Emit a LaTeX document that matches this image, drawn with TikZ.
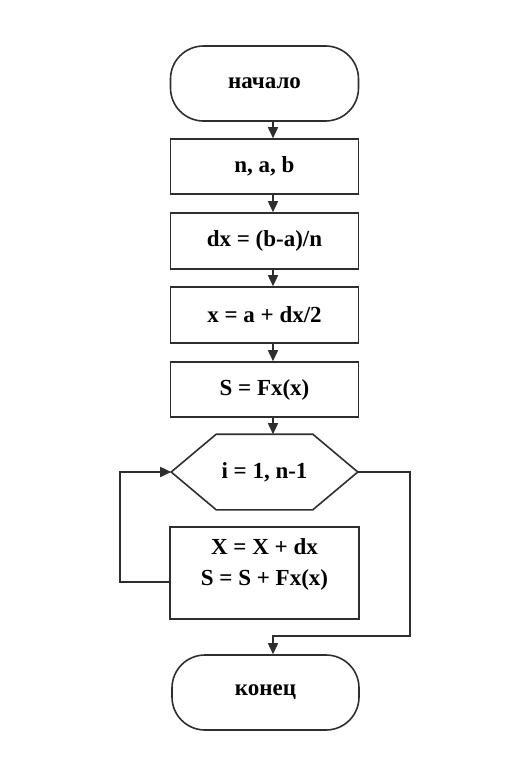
\documentclass[tikz,border=0pt]{standalone}
\usepackage{fontspec}
\setmainfont{Liberation Serif}
\usetikzlibrary{arrows.meta}
\definecolor{ln}{HTML}{2E2E2E}
\tikzset{
  base/.style={draw=ln, line width=1.6pt, font=\bfseries\fontsize{23}{31}\selectfont, inner sep=0pt, text=black},
  term/.style={base, rounded corners=33pt, minimum width=188pt, minimum height=75pt},
  proc/.style={base, minimum width=188pt, minimum height=55pt},
  arr/.style={draw=ln, line width=1.6pt, -{Triangle[length=11pt,width=10pt]}},
}
\begin{document}
\begin{tikzpicture}[x=1pt,y=-1pt]
\useasboundingbox (0,0) rectangle (531,779);
\coordinate (col) at (273,0);
\node[term] (start) at (264.5,83.5) {начало};
\node[proc] (b1) at (264.5,166.5) {n, a, b};
\node[proc, minimum height=56pt] (b2) at (264.5,241) {dx = (b-a)/n};
\node[proc, minimum height=56pt] (b3) at (264.5,315) {x = a + dx/2};
\node[proc] (b4) at (264.5,389.5) {S = Fx(x)};
\node[base, draw=none, minimum width=185pt, minimum height=74pt] (hex) at (264.5,472) {i = 1, n-1};
\draw[draw=ln, line width=1.6pt, line join=miter] (hex.west) -- ([xshift=45pt]hex.north west) -- ([xshift=-45pt]hex.north east) -- (hex.east) -- ([xshift=-45pt]hex.south east) -- ([xshift=45pt]hex.south west) -- cycle;
\node[proc, minimum width=189pt, minimum height=92pt] (body) at (264.5,573) {};
\node[base, draw=none, align=center] (bodytext) at (264.5,564) {X = X + dx\\S = S + Fx(x)};
\node[term, minimum width=187pt] (end) at (265.5,692.5) {конец};
\draw[arr] (start.south -| col) -- (b1.north -| col);
\draw[arr] (b1.south -| col) -- (b2.north -| col);
\draw[arr] (b2.south -| col) -- (b3.north -| col);
\draw[arr] (b3.south -| col) -- (b4.north -| col);
\draw[arr] (b4.south -| col) -- (hex.north -| col);
\coordinate (lb) at (120,582);
\draw[arr] (body.west |- lb) -- (lb) |- (hex.west);
\coordinate (rx) at (410,636);
\draw[arr] (hex.east) -| (rx) -| (end.north -| col);
\end{tikzpicture}
\end{document}
